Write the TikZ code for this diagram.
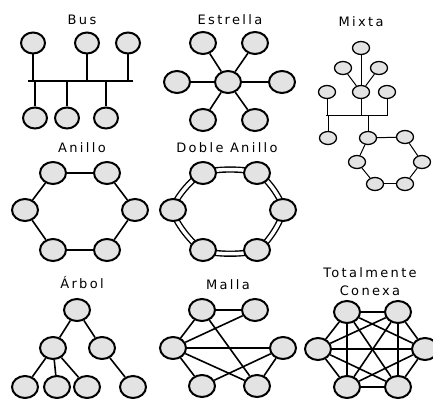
\documentclass[tikz,border=0pt]{standalone}
\usepackage{fontspec}
\setsansfont{DejaVu Sans}[LetterSpace=18]
\usetikzlibrary{shapes.geometric,backgrounds}

\begin{document}
\begin{tikzpicture}[x=1pt,y=-1pt,line width=1.6pt,
  host/.style={ellipse,draw,line width=2pt,fill=gray!22,minimum width=26pt,minimum height=22pt,inner sep=0pt},
  bus host/.style={host,minimum width=24pt,minimum height=21pt},
  small host/.style={ellipse,draw,line width=1.3pt,fill=gray!22,minimum width=17pt,minimum height=13pt,inner sep=0pt},
  title/.style={font=\sffamily\fontsize{13}{18}\selectfont,align=center}]
  \useasboundingbox (0,0) rectangle (433,403);

  % Bus
  \node[title](tbus) at (82,20) {Bus};
  \node[bus host](bus1) at (33,43) {};
  \node[bus host](bus2) at (87,43) {};
  \node[bus host](bus3) at (128,43) {};
  \node[bus host](bus4) at (35,118) {};
  \node[bus host](bus5) at (67,118) {};
  \node[bus host](bus6) at (106,118) {};
  \coordinate (busw) at (28,81);
  \coordinate (buse) at (133,81);
  \draw (busw) -- (buse);
  \draw (bus1) -- (bus1 |- busw);
  \draw (bus2) -- (bus2 |- busw);
  \draw (bus3) -- (bus3 |- busw);
  \draw (bus4) -- (bus4 |- busw);
  \draw (bus5) -- (bus5 |- busw);
  \draw (bus6) -- (bus6 |- busw);

  % Estrella
  \node[title](tstar) at (230,20) {Estrella};
  \node[host](hub) at (228,82) {};
  \node[host](star1) at (203,43) {};
  \node[host](star2) at (255,43) {};
  \node[host](star3) at (177,82) {};
  \node[host](star4) at (282,82) {};
  \node[host](star5) at (203,120) {};
  \node[host](star6) at (255,120) {};
  \path (hub) edge (star1) edge (star2) edge (star3)
              edge (star4) edge (star5) edge (star6);

  % Mixta
  \begin{scope}[line width=1pt]
  \node[title](tmix) at (361,22) {Mixta};
  \node[small host](mix1) at (361,48) {};
  \node[small host](mix2) at (343,68) {};
  \node[small host](mix3) at (379,68) {};
  \node[small host](mix4) at (327,92) {};
  \node[small host](mix5) at (361,92) {};
  \node[small host](mix6) at (387,92) {};
  \node[small host](mix7) at (328,138) {};
  \node[small host](ring1) at (368,138) {};
  \node[small host](ring2) at (405,137) {};
  \node[small host](ring3) at (422,162) {};
  \node[small host](ring4) at (405,184) {};
  \node[small host](ring5) at (375,184) {};
  \node[small host](ring6) at (357,162) {};
  \coordinate (mixw) at (326,116);
  \coordinate (mixe) at (387,116);
  \draw (mixw) -- (mixe);
  \path (mix5) edge (mix1) edge (mix2) edge (mix3);
  \draw (mix4) -- (mix4 |- mixw);
  \draw (mix5) -- (mix5 |- mixw);
  \draw (mix6) -- (mix6 |- mixw);
  \draw (mix7) -- (mix7 |- mixw);
  \draw (ring1) -- (ring1 |- mixw);
  \path (ring1) edge (ring2);
  \path (ring2) edge (ring3);
  \path (ring3) edge (ring4);
  \path (ring4) edge (ring5);
  \path (ring5) edge (ring6);
  \path (ring6) edge (ring1);
  \end{scope}

  % Anillo
  \node[title](tring) at (82,148) {Anillo};
  \node[host](ani1) at (53,173) {};
  \node[host](ani2) at (107,173) {};
  \node[host](ani3) at (135,210) {};
  \node[host](ani4) at (107,250) {};
  \node[host](ani5) at (53,250) {};
  \node[host](ani6) at (25,210) {};
  \path (ani1) edge (ani2);
  \path (ani2) edge (ani3);
  \path (ani3) edge (ani4);
  \path (ani4) edge (ani5);
  \path (ani5) edge (ani6);
  \path (ani6) edge (ani1);

  % Doble Anillo
  \node[title](tdring) at (227,148) {Doble Anillo};
  \node[host](dan1) at (203,173) {};
  \node[host](dan2) at (257,173) {};
  \node[host](dan3) at (283,210) {};
  \node[host](dan4) at (257,250) {};
  \node[host](dan5) at (203,250) {};
  \node[host](dan6) at (173,210) {};
  \begin{scope}[on background layer]
    \draw[line width=1.4pt,double=white,double distance=3.5pt]
      plot[smooth cycle,tension=0.45] coordinates {(dan1.center) (dan2.center) (dan3.center)
        (dan4.center) (dan5.center) (dan6.center)};
  \end{scope}

  % Arbol
  \node[title](ttree) at (82,283) {Árbol};
  \node[host](root) at (77,310) {};
  \node[host](tree1) at (53,348) {};
  \node[host](tree2) at (102,348) {};
  \node[host](leaf1) at (25,387) {};
  \node[host](leaf2) at (57,387) {};
  \node[host](leaf3) at (87,387) {};
  \node[host](leaf4) at (133,387) {};
  \path (root) edge (tree1) edge (tree2);
  \path (tree1) edge (leaf1) edge (leaf2) edge (leaf3);
  \path (tree2) edge (leaf4);

  % Malla
  \node[title](tmesh) at (228,285) {Malla};
  \node[host](mesh1) at (202,310) {};
  \node[host](mesh2) at (255,310) {};
  \node[host](mesh3) at (283,348) {};
  \node[host](mesh4) at (257,386) {};
  \node[host](mesh5) at (202,386) {};
  \node[host](mesh6) at (173,348) {};
  \path (mesh1) edge (mesh2) edge (mesh6) edge (mesh4);
  \path (mesh6) edge (mesh2) edge (mesh3) edge (mesh4) edge (mesh5);
  \path (mesh5) edge (mesh3);
  \path (mesh3) edge (mesh4);

  % Totalmente Conexa
  \node[title](tfull) at (370,282) {Totalmente\\Conexa};
  \node[host](full1) at (347,312) {};
  \node[host](full2) at (398,312) {};
  \node[host](full3) at (425,349) {};
  \node[host](full4) at (398,387) {};
  \node[host](full5) at (347,387) {};
  \node[host](full6) at (318,349) {};
  \path (full1) edge (full2) edge (full3) edge (full4) edge (full5) edge (full6);
  \path (full2) edge (full3) edge (full4) edge (full5) edge (full6);
  \path (full3) edge (full4) edge (full5) edge (full6);
  \path (full4) edge (full5) edge (full6);
  \path (full5) edge (full6);
\end{tikzpicture}
\end{document}
